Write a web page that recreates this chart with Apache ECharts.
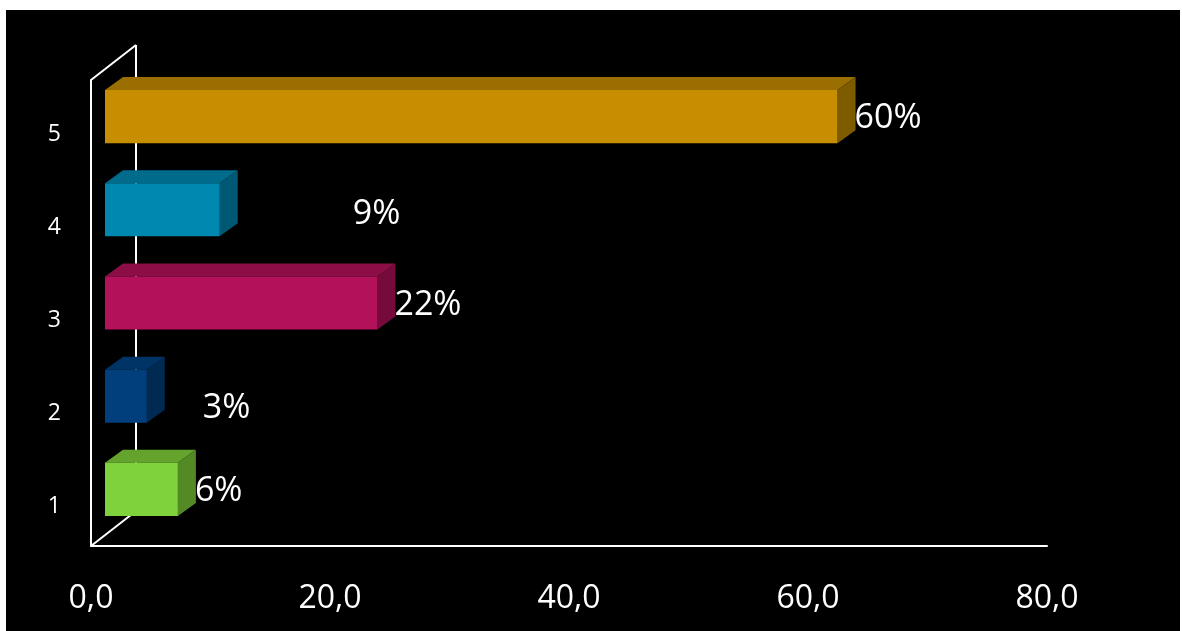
<!DOCTYPE html>
<html>
<head>
<meta charset="utf-8">
<script src="https://cdn.jsdelivr.net/npm/echarts@6/dist/echarts.min.js"></script>
<style>
  html, body { margin: 0; padding: 0; background: #ffffff; width: 1182px; height: 631px; overflow: hidden; }
  #bg { position: absolute; left: 6px; top: 10px; width: 1174px; height: 621px; background: #000000; }
  #chart { position: absolute; left: 0; top: 0; width: 1182px; height: 631px; }
</style>
</head>
<body>
<div id="bg"></div>
<div id="chart"></div>
<script>
// ---- data ----
const categories = ['1', '2', '3', '4', '5'];
const barValues = [6.1, 3.5, 22.8, 9.6, 61.3];
const dataLabels = ['6%', '3%', '22%', '9%', '60%'];
const xTickLabels = ['0,0', '20,0', '40,0', '60,0', '80,0'];

// ---- styles ----
const barColors = [
  { front: '#7fd23b', top: '#64a42d', side: '#538a26' },
  { front: '#003f7b', top: '#003466', side: '#002a52' },
  { front: '#b3125a', top: '#8c0e47', side: '#760b3b' },
  { front: '#0088b0', top: '#006b8b', side: '#005974' },
  { front: '#c68e00', top: '#9a6e00', side: '#7f5b00' }
];
const labelShift = { '2': [39, 10], '4': [116, 3] };
const FONT = '"Open Sans", "DejaVu Sans", sans-serif';
const DEPTH = [45, -35];     // floor depth
const FACE = [14, -10];      // bar front face offset inside depth
const BARD = [18, -13];      // bar depth

const chart = echarts.init(document.getElementById('chart'), null, { renderer: 'canvas' });

const option = {
  backgroundColor: 'transparent',
  animation: false,
  grid: { left: 91, right: 135, top: 80, bottom: 85, containLabel: false },
  xAxis: {
    type: 'value', min: 0, max: 80, interval: 20,
    axisLine: { show: true, lineStyle: { color: '#ffffff', width: 2 } },
    axisTick: { show: false },
    splitLine: { show: false },
    axisLabel: {
      color: '#ffffff', fontFamily: FONT, fontSize: 32, margin: 37,
      formatter: (v) => xTickLabels[Math.round(v / 20)]
    }
  },
  yAxis: {
    type: 'category', data: categories,
    axisLine: { show: true, lineStyle: { color: '#ffffff', width: 2 } },
    axisTick: { show: false },
    splitLine: { show: false },
    axisLabel: {
      color: '#ffffff', fontFamily: FONT, fontSize: 23, margin: 30,
      formatter: (v) => '{a|' + v + '}',
      rich: { a: { color: '#ffffff', fontFamily: FONT, fontSize: 23, padding: [15, 0, 0, 0] } }
    }
  },
  series: [
    {
      type: 'custom',
      z: 1,
      data: [[0, 0]],
      silent: true,
      renderItem: function (params, api) {
        const cs = params.coordSys;
        const x = cs.x, y = cs.y, h = cs.height;
        const st = { stroke: '#ffffff', lineWidth: 2 };
        return {
          type: 'group',
          children: [
            { type: 'line', shape: { x1: x, y1: y, x2: x + DEPTH[0], y2: y + DEPTH[1] }, style: st },
            { type: 'line', shape: { x1: x + DEPTH[0], y1: y + DEPTH[1], x2: x + DEPTH[0], y2: y + h + DEPTH[1] }, style: st },
            { type: 'line', shape: { x1: x, y1: y + h, x2: x + DEPTH[0], y2: y + h + DEPTH[1] }, style: st }
          ]
        };
      }
    },
    {
      type: 'custom',
      z: 5,
      encode: { x: 0, y: 1 },
      data: barValues.map((v, i) => [v, i]),
      renderItem: function (params, api) {
        const idx = api.value(1);
        const val = api.value(0);
        const p0 = api.coord([0, idx]);
        const p1 = api.coord([val, idx]);
        const band = api.size([0, 1])[1];
        const bh = band * 0.57;
        const x0 = p0[0] + FACE[0];
        const x1 = p1[0] + FACE[0];
        const yc = p0[1] + FACE[1];
        const t = yc - bh / 2, b = yc + bh / 2;
        const c = barColors[idx];
        const sh = labelShift[categories[idx]] || [0, 0];
        return {
          type: 'group',
          children: [
            { type: 'polygon', shape: { points: [[x0, t], [x1, t], [x1 + BARD[0], t + BARD[1]], [x0 + BARD[0], t + BARD[1]]] },
              style: { fill: c.top } },
            { type: 'polygon', shape: { points: [[x1, t], [x1 + BARD[0], t + BARD[1]], [x1 + BARD[0], b + BARD[1]], [x1, b]] },
              style: { fill: c.side } },
            { type: 'rect', shape: { x: x0, y: t, width: x1 - x0, height: bh }, style: { fill: c.front } },
            { type: 'text', x: x1 + BARD[0] - 1 + sh[0], y: yc + 2 + sh[1],
              style: { text: dataLabels[idx], fill: '#ffffff', font: '34px ' + FONT,
                textAlign: 'left', textVerticalAlign: 'middle' } }
          ]
        };
      }
    }
  ]
};
chart.setOption(option);
</script>
</body>
</html>
